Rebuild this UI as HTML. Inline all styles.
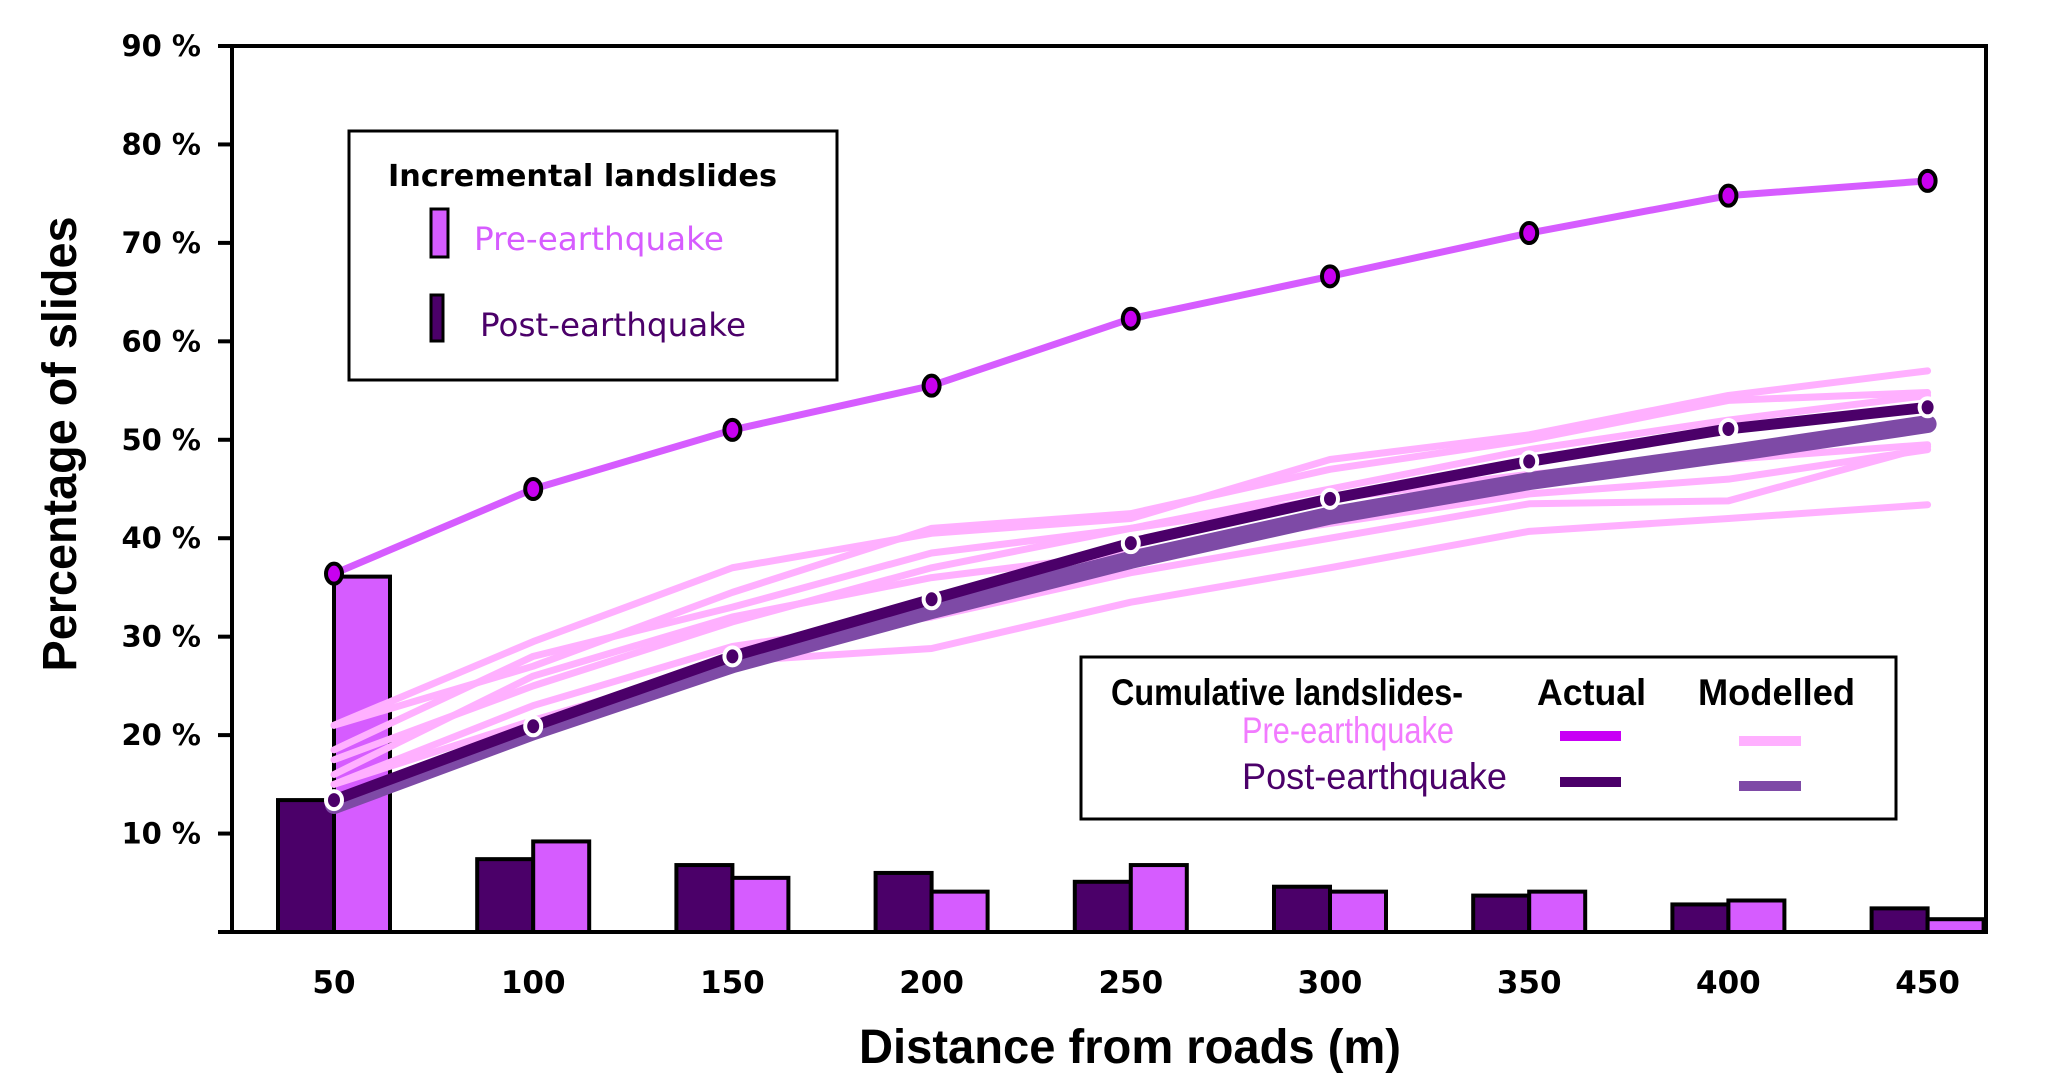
<!DOCTYPE html>
<html><head><meta charset="utf-8">
<style>
html,body{margin:0;padding:0;background:#fff;}
svg{display:block;}
.tk{font-family:"DejaVu Sans","Liberation Sans",sans-serif;font-weight:bold;font-size:29px;fill:#000;}
.nar{font-family:"Liberation Sans Narrow","Liberation Sans",sans-serif;}
</style></head><body>
<svg id="chart" width="2067" height="1086" viewBox="0 0 2067 1086" xmlns="http://www.w3.org/2000/svg">
<g id="plot"></g>
<text class="nar" x="0" y="0" transform="translate(76,444) rotate(-90)" text-anchor="middle" font-size="48" font-weight="bold" textLength="455" lengthAdjust="spacingAndGlyphs">Percentage of slides</text>
<text class="nar" x="1130" y="1063" text-anchor="middle" font-size="48" font-weight="bold" textLength="542" lengthAdjust="spacingAndGlyphs">Distance from roads (m)</text>

<g>
<rect x="349" y="131" width="488" height="249" fill="#fff" stroke="#000" stroke-width="3"/>
<text x="388" y="186" font-family="DejaVu Sans,sans-serif" font-weight="bold" font-size="30" textLength="389" lengthAdjust="spacingAndGlyphs">Incremental landslides</text>
<rect x="431" y="209" width="17" height="48" fill="#d65cff" stroke="#000" stroke-width="3"/>
<text x="474" y="250" font-family="DejaVu Sans,sans-serif" font-size="32" fill="#d65cff" textLength="250" lengthAdjust="spacingAndGlyphs">Pre-earthquake</text>
<rect x="431" y="295" width="12" height="46" fill="#4b0069" stroke="#000" stroke-width="3"/>
<text x="480" y="336" font-family="DejaVu Sans,sans-serif" font-size="32" fill="#4b0069" textLength="266" lengthAdjust="spacingAndGlyphs">Post-earthquake</text>
</g>

<g>
<rect x="1081" y="657" width="815" height="162" fill="#fff" stroke="#000" stroke-width="3"/>
<text class="nar" x="1111" y="705" font-weight="bold" font-size="37" textLength="352" lengthAdjust="spacingAndGlyphs">Cumulative landslides-</text>
<text class="nar" x="1537" y="705" font-weight="bold" font-size="37" textLength="109" lengthAdjust="spacingAndGlyphs">Actual</text>
<text class="nar" x="1698" y="705" font-weight="bold" font-size="37" textLength="157" lengthAdjust="spacingAndGlyphs">Modelled</text>
<text class="nar" x="1242" y="743" font-size="37" fill="#f27bff" textLength="212" lengthAdjust="spacingAndGlyphs">Pre-earthquake</text>
<text class="nar" x="1242" y="789" font-size="37" fill="#4b0069" textLength="265" lengthAdjust="spacingAndGlyphs">Post-earthquake</text>
<rect x="1560" y="731" width="61" height="10" fill="#c800f5"/>
<rect x="1560" y="777" width="61" height="10" fill="#4b0069"/>
<rect x="1739" y="736" width="62" height="10" fill="#ffb0ff"/>
<rect x="1739" y="781" width="62" height="10" fill="#7e4aa6"/>
</g>
</svg>
<script>
const categories=[50,100,150,200,250,300,350,400,450];
const yTicks=[10,20,30,40,50,60,70,80,90];
const postBars=[13.4,7.4,6.8,6.0,5.1,4.6,3.7,2.8,2.4];
const preBars=[36.1,9.2,5.5,4.1,6.8,4.1,4.1,3.2,1.3];
const preActual=[36.4,45.0,51.0,55.5,62.3,66.6,71.0,74.8,76.3];
const postActual=[13.4,20.9,28.0,33.8,39.5,44.0,47.8,51.1,53.3];
const postModelled=[12.9,20.4,27.2,32.7,37.8,42.3,45.8,48.6,51.6];
const preModelled1=[21,29.5,37,40.5,42,48,50.5,54.5,57];
const preModelled2=[21,27,34.5,41,42.5,47,50,54,54.8];
const preModelled3=[18.5,28,33,38.5,41,45,49,52,54.5];
const preModelled4=[17.5,25,31.5,37,41,44,46.5,48,49.5];
const preModelled5=[16,26,32,36,38.5,41.5,44.5,46,49];
const preModelled6=[15,23,29,32,36.5,40,43.5,43.8,49.3];
const preModelled7=[15,21.5,27.5,28.8,33.5,37,40.7,42,43.4];

const NS="http://www.w3.org/2000/svg";
const g=document.getElementById('plot');
const X0=232,X1=1986,Y0=932,YT=46;
function xs(i){return 334+i*199.2;}
function ys(v){return Y0-v*(Y0-YT)/90;}
function mk(t,a){const e=document.createElementNS(NS,t);for(const k in a)e.setAttribute(k,a[k]);g.appendChild(e);return e;}

let fr=mk('rect',{x:X0,y:YT,width:X1-X0,height:Y0-YT,fill:'none',stroke:'#000','stroke-width':4});


let xl=mk('line',{x1:218,y1:Y0,x2:X1,y2:Y0,stroke:'#000','stroke-width':4});


yTicks.forEach(v=>{
  const y=ys(v);
  const l=mk('line',{x1:218,y1:y,x2:X0,y2:y,stroke:'#000','stroke-width':4});
  
  
  const t=mk('text',{x:201,y:y+10,'text-anchor':'end',class:'tk'});
  t.textContent=v+' %';
  
  
});
categories.forEach((c,i)=>{
  const t=mk('text',{x:xs(i),y:993,'text-anchor':'middle',class:'tk',style:'font-size:31px'});
  t.textContent=c;
  
  
});
categories.forEach((c,i)=>{
  const bw=56;
  const b1=mk('rect',{x:xs(i)-bw,y:ys(postBars[i]),width:bw,height:Y0-ys(postBars[i]),fill:'#4b0069',stroke:'#000','stroke-width':4});
  
  
  const b2=mk('rect',{x:xs(i),y:ys(preBars[i]),width:bw,height:Y0-ys(preBars[i]),fill:'#d65cff',stroke:'#000','stroke-width':4});
  
  
});
function line(arr,col,w,name){
  const p=mk('polyline',{points:arr.map((v,i)=>xs(i)+','+ys(v)).join(' '),fill:'none',stroke:col,'stroke-width':w,'stroke-linejoin':'round','stroke-linecap':'round'});
  
  
}
[preModelled1,preModelled2,preModelled3,preModelled4,preModelled5,preModelled6,preModelled7].forEach((a,k)=>line(a,'#ffb0ff',7,'pre-modelled-line-'+(k+1)));
line(postModelled,'#7e4aa6',18,'post-modelled-line');
line(postActual,'#4b0069',11,'post-actual-line');
line(preActual,'#d65cff',7,'pre-actual-line');
preActual.forEach((v,i)=>{
  const e=mk('ellipse',{cx:xs(i),cy:ys(v),rx:8,ry:10,fill:'#c800f0',stroke:'#000','stroke-width':4});
  
  
});
postActual.forEach((v,i)=>{
  const e=mk('ellipse',{cx:xs(i),cy:ys(v),rx:8,ry:9,fill:'#4b0069',stroke:'#fff','stroke-width':4});
  
  
});
</script>
</body></html>
